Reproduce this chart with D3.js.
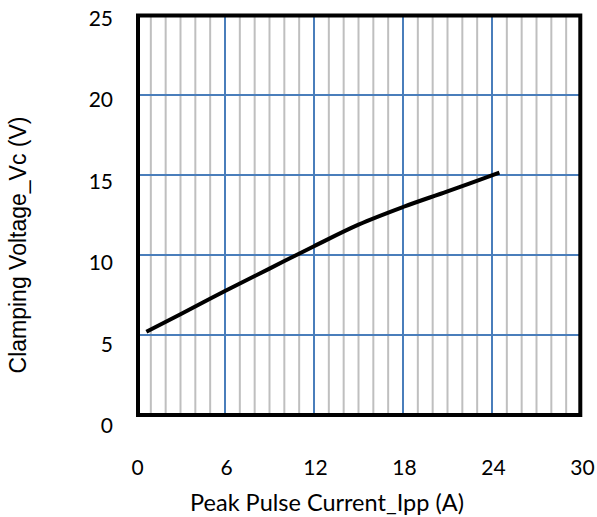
<!DOCTYPE html>
<html>
<head>
<meta charset="utf-8">
<script src="https://cdn.jsdelivr.net/npm/d3@7"></script>
<style>
html,body{margin:0;padding:0;background:#fff;}
svg{display:block;}
</style>
</head>
<body>
<svg id="chart" width="597" height="517"></svg>
<script>
// Data
const currentA = [0.7, 3, 6, 9, 12, 15, 18, 21, 24.5];
const voltageV = [5.2, 6.3, 7.75, 9.15, 10.55, 11.9, 13.0, 13.98, 15.15];
const xTicks = [0, 6, 12, 18, 24, 30];
const yTicks = [0, 5, 10, 15, 20, 25];
const xMinor = d3.range(0, 31, 1);
const xTitle = "Peak Pulse Current_Ipp (A)";
const yTitle = "Clamping Voltage_Vc (V)";

const svg = d3.select("#chart");
const x = d3.scaleLinear().domain([0, 30]).range([136, 581]);
const y = d3.scaleLinear().domain([0, 25]).range([415, 15]);
// tick labels in the reference are spaced slightly wider than the grid
const yLab = d3.scaleLinear().domain([0, 25]).range([425, 17.5]);

const grid = svg.append("g");
grid.selectAll("line.minor").data(xMinor.filter(v => v % 6 !== 0)).join("line")
  .attr("x1", d => x(d)).attr("x2", d => x(d))
  .attr("y1", y(25)).attr("y2", y(0))
  .attr("stroke", "#bfbfbf").attr("stroke-width", 2);
grid.selectAll("line.vmaj").data(xTicks.filter(v => v > 0 && v < 30)).join("line")
  .attr("x1", d => x(d)).attr("x2", d => x(d))
  .attr("y1", y(25)).attr("y2", y(0))
  .attr("stroke", "#4a7ebb").attr("stroke-width", 2);
grid.selectAll("line.hmaj").data(yTicks.filter(v => v > 0 && v < 25)).join("line")
  .attr("x1", x(0)).attr("x2", x(30))
  .attr("y1", d => y(d)).attr("y2", d => y(d))
  .attr("stroke", "#4a7ebb").attr("stroke-width", 2);

const pts = currentA.map((c, i) => [c, voltageV[i]]);
svg.append("path")
  .datum(pts)
  .attr("fill", "none")
  .attr("stroke", "#000")
  .attr("stroke-width", 4)
  .attr("stroke-linecap", "butt")
  .attr("d", d3.line().x(d => x(d[0])).y(d => y(d[1])).curve(d3.curveCatmullRom.alpha(0.5)));

svg.append("rect")
  .attr("x", 138).attr("y", 15.5)
  .attr("width", 580.3 - 138).attr("height", 415 - 15.5)
  .attr("fill", "none").attr("stroke", "#000").attr("stroke-width", 4);

const tickFont = "Lato, 'Open Sans', sans-serif";

const xAxis = d3.axisBottom(x).tickValues(xTicks).tickSize(0).tickPadding(0).tickFormat(d3.format("d"));
const gx = svg.append("g").attr("transform", "translate(1,475)").call(xAxis);
gx.select(".domain").remove();
gx.selectAll("text").attr("dy", 0).attr("y", 0)
  .attr("font-family", tickFont).attr("font-size", 21).attr("fill", "#000");

const yAxis = d3.axisLeft(yLab).tickValues(yTicks).tickSize(0).tickPadding(0).tickFormat(d3.format("d"));
const gy = svg.append("g").attr("transform", "translate(113,0)").call(yAxis);
gy.select(".domain").remove();
gy.selectAll("text").attr("dy", "0.36em")
  .attr("font-family", tickFont).attr("font-size", 21).attr("fill", "#000");

svg.append("text")
  .attr("x", 327).attr("y", 511)
  .attr("text-anchor", "middle")
  .attr("font-family", tickFont).attr("font-size", 23.5).attr("fill", "#000")
  .text(xTitle);

svg.append("text")
  .attr("transform", "translate(26,245) rotate(-90)")
  .attr("text-anchor", "middle")
  .attr("font-family", "'Liberation Sans', Arial, sans-serif").attr("font-size", 23).attr("fill", "#000")
  .text(yTitle);
</script>
</body>
</html>
